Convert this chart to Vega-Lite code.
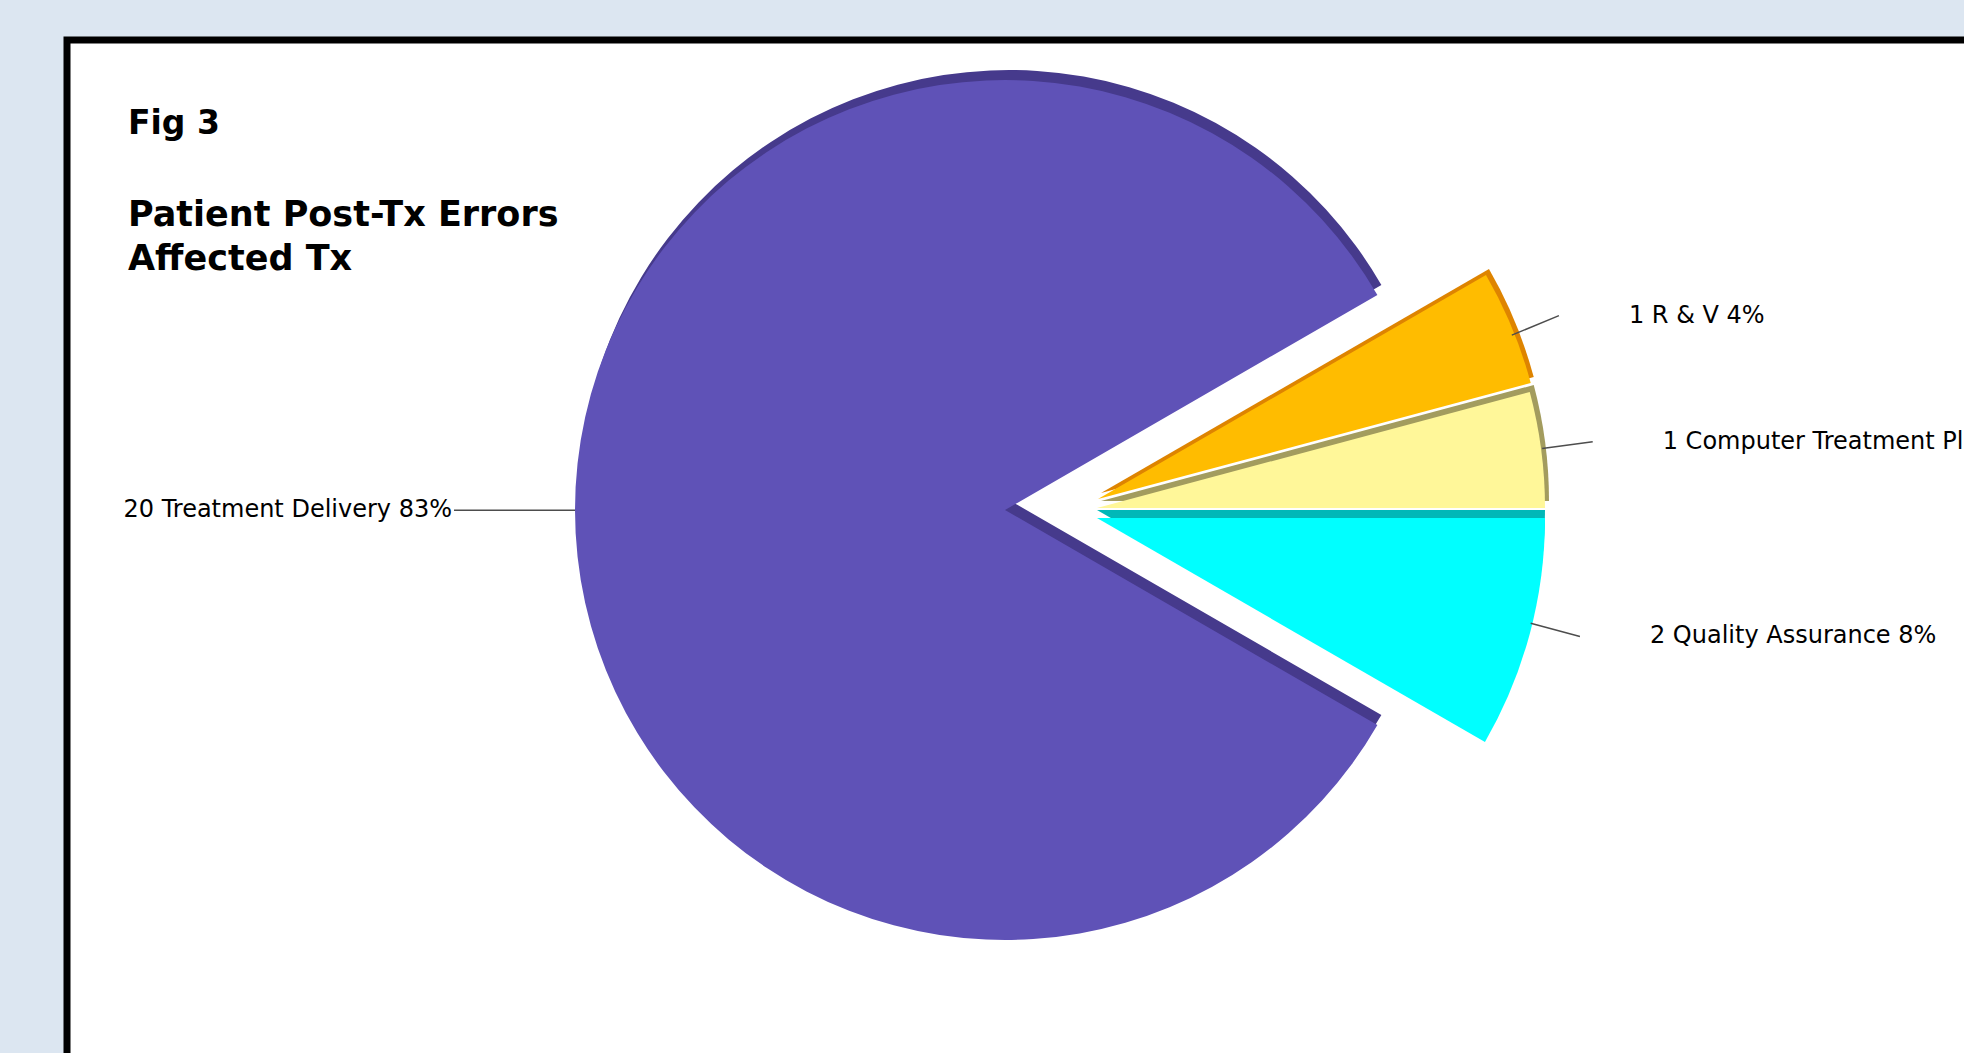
{
  "$schema": "https://vega.github.io/schema/vega-lite/v6.json",
  "width": 1897,
  "height": 1013,
  "autosize": {"type": "none"},
  "padding": {"left": 67, "top": 40, "right": 0, "bottom": 0},
  "background": "#dce6f1",
  "config": {"view": {"stroke": null}},
  "title": {
    "text": "Fig 3",
    "subtitle": ["Patient Post-Tx Errors", "Affected Tx"],
    "orient": "top",
    "anchor": "start",
    "frame": "group",
    "offset": -242,
    "dx": 61,
    "font": "DejaVu Sans",
    "fontSize": 33,
    "fontWeight": "bold",
    "color": "black",
    "subtitleFont": "DejaVu Sans",
    "subtitleFontSize": 35,
    "subtitleFontWeight": "bold",
    "subtitleColor": "black",
    "subtitleLineHeight": 44,
    "subtitlePadding": 57
  },
  "data": {
    "values": [
      {"category": "R & V", "count": 1, "label": "1 R & V 4%", "order": 1},
      {"category": "Computer Treatment Planning", "count": 1, "label": "1 Computer Treatment Planning 4%", "order": 2},
      {"category": "Quality Assurance", "count": 2, "label": "2 Quality Assurance 8%", "order": 3},
      {"category": "Treatment Delivery", "count": 20, "label": "20 Treatment Delivery 83%", "order": 4}
    ]
  },
  "resolve": {"scale": {"theta": "independent"}},
  "layer": [
    {
      "data": {"values": [{}]},
      "mark": {"type": "rect", "fill": "white", "stroke": "black", "strokeWidth": 7, "strokeDash": [1897, 2910, 1013], "strokeCap": "square"}
    },
    {
      "mark": {"type": "arc", "outerRadius": 430, "color": "#463a8c", "xOffset": -6.5, "yOffset": -46.5},
      "encoding": {
        "theta": {"field": "count", "type": "quantitative", "stack": true, "scale": {"range": [1.047198, 7.330383]}},
        "order": {"field": "order", "type": "quantitative"},
        "detail": {"field": "category"},
        "opacity": {"condition": {"test": "datum.category === 'Treatment Delivery'", "value": 1}, "value": 0}
      }
    },
    {
      "mark": {"type": "arc", "outerRadius": 448, "color": "#de8400", "xOffset": 85.5, "yOffset": -53.5},
      "encoding": {
        "theta": {"field": "count", "type": "quantitative", "stack": true, "scale": {"range": [1.047198, 7.330383]}},
        "order": {"field": "order", "type": "quantitative"},
        "detail": {"field": "category"},
        "opacity": {"condition": {"test": "datum.category === 'R & V'", "value": 1}, "value": 0}
      }
    },
    {
      "mark": {"type": "arc", "outerRadius": 448, "color": "#a39c5e", "xOffset": 85.5, "yOffset": -45.5},
      "encoding": {
        "theta": {"field": "count", "type": "quantitative", "stack": true, "scale": {"range": [1.047198, 7.330383]}},
        "order": {"field": "order", "type": "quantitative"},
        "detail": {"field": "category"},
        "opacity": {"condition": {"test": "datum.category === 'Computer Treatment Planning'", "value": 1}, "value": 0}
      }
    },
    {
      "mark": {"type": "arc", "outerRadius": 448, "color": "#00b8b8", "xOffset": 81.5, "yOffset": -36.5},
      "encoding": {
        "theta": {"field": "count", "type": "quantitative", "stack": true, "scale": {"range": [1.047198, 7.330383]}},
        "order": {"field": "order", "type": "quantitative"},
        "detail": {"field": "category"},
        "opacity": {"condition": {"test": "datum.category === 'Quality Assurance'", "value": 1}, "value": 0}
      }
    },
    {
      "mark": {"type": "arc", "outerRadius": 430, "color": "#5f52b7", "xOffset": -10.5, "yOffset": -36.5},
      "encoding": {
        "theta": {"field": "count", "type": "quantitative", "stack": true, "scale": {"range": [1.047198, 7.330383]}},
        "order": {"field": "order", "type": "quantitative"},
        "detail": {"field": "category"},
        "opacity": {"condition": {"test": "datum.category === 'Treatment Delivery'", "value": 1}, "value": 0}
      }
    },
    {
      "mark": {"type": "arc", "outerRadius": 448, "color": "#ffbc00", "xOffset": 82.5, "yOffset": -47.5},
      "encoding": {
        "theta": {"field": "count", "type": "quantitative", "stack": true, "scale": {"range": [1.047198, 7.330383]}},
        "order": {"field": "order", "type": "quantitative"},
        "detail": {"field": "category"},
        "opacity": {"condition": {"test": "datum.category === 'R & V'", "value": 1}, "value": 0}
      }
    },
    {
      "mark": {"type": "arc", "outerRadius": 448, "color": "#fff799", "xOffset": 81.5, "yOffset": -38.5},
      "encoding": {
        "theta": {"field": "count", "type": "quantitative", "stack": true, "scale": {"range": [1.047198, 7.330383]}},
        "order": {"field": "order", "type": "quantitative"},
        "detail": {"field": "category"},
        "opacity": {"condition": {"test": "datum.category === 'Computer Treatment Planning'", "value": 1}, "value": 0}
      }
    },
    {
      "mark": {"type": "arc", "outerRadius": 448, "color": "#00ffff", "xOffset": 81.5, "yOffset": -28.5},
      "encoding": {
        "theta": {"field": "count", "type": "quantitative", "stack": true, "scale": {"range": [1.047198, 7.330383]}},
        "order": {"field": "order", "type": "quantitative"},
        "detail": {"field": "category"},
        "opacity": {"condition": {"test": "datum.category === 'Quality Assurance'", "value": 1}, "value": 0}
      }
    },
    {
      "mark": {"type": "arc", "innerRadius": 449, "outerRadius": 500, "padAngle": 3, "filled": false, "stroke": "#4d4d4d", "strokeWidth": 1.5, "xOffset": 81.5, "yOffset": -39.5},
      "encoding": {
        "theta": {"field": "count", "type": "quantitative", "stack": true, "scale": {"range": [1.047198, 7.330383]}},
        "order": {"field": "order", "type": "quantitative"},
        "detail": {"field": "category"},
        "opacity": {"condition": {"test": "datum.category !== 'Treatment Delivery'", "value": 1}, "value": 0}
      }
    },
    {
      "mark": {"type": "arc", "innerRadius": 430, "outerRadius": 551, "padAngle": 3, "filled": false, "stroke": "#4d4d4d", "strokeWidth": 1.5, "xOffset": -10.5, "yOffset": -36.5},
      "encoding": {
        "theta": {"field": "count", "type": "quantitative", "stack": true, "scale": {"range": [4.7062, 4.7162]}},
        "order": {"field": "order", "type": "quantitative"},
        "detail": {"field": "category"},
        "opacity": {"condition": {"test": "datum.category === 'Treatment Delivery'", "value": 1}, "value": 0}
      }
    },
    {
      "mark": {"type": "text", "radius": 500, "align": "left", "baseline": "middle", "dx": 70, "xOffset": 81.5, "yOffset": -39.5, "font": "DejaVu Sans", "fontSize": 24, "color": "black"},
      "encoding": {
        "theta": {"field": "count", "type": "quantitative", "stack": true, "scale": {"range": [1.047198, 7.330383]}},
        "order": {"field": "order", "type": "quantitative"},
        "detail": {"field": "category"},
        "text": {"field": "label"},
        "opacity": {"condition": {"test": "datum.category !== 'Treatment Delivery'", "value": 1}, "value": 0}
      }
    },
    {
      "mark": {"type": "text", "radius": 551, "align": "right", "baseline": "middle", "dx": -2, "xOffset": -10.5, "yOffset": -36.5, "font": "DejaVu Sans", "fontSize": 24, "color": "black"},
      "encoding": {
        "theta": {"field": "count", "type": "quantitative", "stack": true, "scale": {"range": [1.047198, 7.330383]}},
        "order": {"field": "order", "type": "quantitative"},
        "detail": {"field": "category"},
        "text": {"field": "label"},
        "opacity": {"condition": {"test": "datum.category === 'Treatment Delivery'", "value": 1}, "value": 0}
      }
    }
  ]
}
